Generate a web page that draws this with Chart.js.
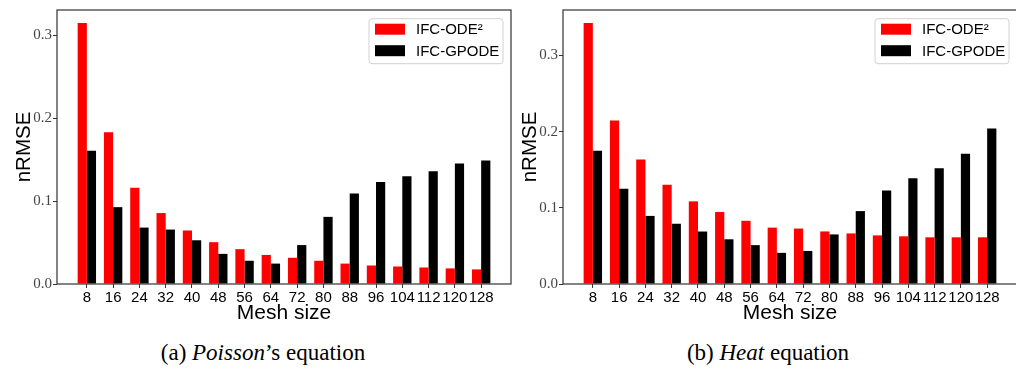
<!DOCTYPE html>
<html>
<head>
<meta charset="utf-8">
<script src="https://cdn.jsdelivr.net/npm/chart.js@4.4.1/dist/chart.umd.min.js"></script>
<style>
  html, body { margin: 0; padding: 0; background: #fff; width: 1016px; height: 373px; overflow: hidden; }
  .panel { position: absolute; top: 0; width: 514px; height: 330px; }
  .caption { position: absolute; top: 340px; font-family: "Liberation Serif", serif; font-size: 23px; color: #000; white-space: nowrap; transform: translateX(-50%); }
</style>
</head>
<body>
<div class="panel" style="left:0px"><canvas id="poissonChart"></canvas></div>
<div class="panel" style="left:506px"><canvas id="heatChart"></canvas></div>
<div class="caption" style="left:263px">(a) <i>Poisson</i>’s equation</div>
<div class="caption" style="left:768px">(b) <i>Heat</i> equation</div>
<script>
// 데이터
const meshSizes = [8, 16, 24, 32, 40, 48, 56, 64, 72, 80, 88, 96, 104, 112, 120, 128];
const seriesLabels = ['IFC-ODE²', 'IFC-GPODE'];
const poissonOde2  = [0.3145, 0.183, 0.116, 0.0855, 0.0645, 0.0504, 0.042, 0.035, 0.0316, 0.028, 0.0246, 0.0223, 0.0211, 0.0199, 0.0188, 0.0176];
const poissonGpode = [0.1605, 0.0926, 0.068, 0.0656, 0.0527, 0.0363, 0.028, 0.0246, 0.0469, 0.0809, 0.109, 0.123, 0.130, 0.136, 0.1453, 0.1488];
const heatOde2     = [0.3426, 0.2145, 0.1634, 0.1302, 0.1085, 0.0945, 0.083, 0.074, 0.0728, 0.069, 0.0664, 0.0638, 0.0626, 0.0613, 0.0613, 0.0613];
const heatGpode    = [0.1749, 0.1251, 0.0894, 0.0791, 0.0689, 0.0587, 0.051, 0.0409, 0.0434, 0.0651, 0.0957, 0.1226, 0.139, 0.152, 0.171, 0.2043];
const yTicks = [0, 0.1, 0.2, 0.3];

// 축 테두리 (matplotlib 스타일 4면)
const frame = {
  id: 'frame',
  afterDraw(chart) {
    const {ctx, chartArea: a} = chart;
    ctx.save();
    ctx.strokeStyle = '#333';
    ctx.lineWidth = 1.2;
    ctx.strokeRect(a.left, a.top, a.right - a.left, a.bottom - a.top);
    ctx.restore();
  }
};

// 차트 내부 범례
const insideLegend = {
  id: 'insideLegend',
  afterDraw(chart) {
    const {ctx, chartArea: a} = chart;
    const w = 134, h = 45;
    const x = a.right - 8 - w, y = a.top + 8.7;
    ctx.save();
    ctx.beginPath();
    ctx.roundRect(x, y, w, h, 3);
    ctx.fillStyle = 'rgba(255,255,255,0.8)';
    ctx.fill();
    ctx.strokeStyle = '#d0d0d0';
    ctx.lineWidth = 1;
    ctx.stroke();
    chart.data.datasets.forEach((ds, i) => {
      const rowY = y + 10.5 + i * 21.5;
      ctx.fillStyle = ds.backgroundColor;
      ctx.fillRect(x + 6, rowY - 5.5, 30, 11);
      ctx.fillStyle = '#000';
      ctx.font = '15px "Liberation Sans"';
      ctx.textBaseline = 'middle';
      ctx.fillText(ds.label, x + 47, rowY + 1);
    });
    ctx.restore();
  }
};

let _drawChart = function(id, ode, gpode) {
  const yMax = Math.max(...ode, ...gpode) * 1.05;
  return new Chart(document.getElementById(id), {
    type: 'bar',
    data: {
      datasets: [{
        label: seriesLabels[0],
        backgroundColor: '#ff0000',
        data: meshSizes.map((m, i) => ({x: m, y: ode[i]}))
      }, {
        label: seriesLabels[1],
        backgroundColor: '#000000',
        data: meshSizes.map((m, i) => ({x: m, y: gpode[i]}))
      }]
    },
    options: {
      responsive: true,
      maintainAspectRatio: false,
      animation: false,
      layout: { padding: { top: 3, right: 3, left: 0, bottom: 0 } },
      datasets: { bar: { categoryPercentage: 0.7, barPercentage: 1.0, borderWidth: 0 } },
      plugins: { legend: { display: false }, tooltip: { enabled: false } },
      scales: {
        x: {
          type: 'linear',
          min: -1.08,
          max: 137.08,
          offset: false,
          afterBuildTicks: s => { s.ticks = meshSizes.map(v => ({value: v})); },
          afterFit: s => { s.height = 46; },
          grid: { display: true, drawOnChartArea: false, drawTicks: true, tickLength: 4, tickColor: '#333', offset: false },
          border: { display: false },
          ticks: {
            autoSkip: false, maxRotation: 0, padding: 1, color: '#000',
            font: { family: '"Liberation Sans"', size: 15 },
            callback: v => String(v)
          },
          title: {
            display: true, text: 'Mesh size', color: '#000',
            font: { family: '"Liberation Sans"', size: 21 },
            padding: { top: 0, bottom: 4 }
          }
        },
        y: {
          min: 0,
          max: yMax,
          afterBuildTicks: s => { s.ticks = yTicks.map(v => ({value: v})); },
          afterFit: s => { s.width = 57; },
          grid: { display: true, drawOnChartArea: false, drawTicks: true, tickLength: 4, tickColor: '#333' },
          border: { display: false },
          ticks: {
            padding: 1, color: '#444',
            font: { family: '"Liberation Serif"', size: 15 },
            callback: v => v.toFixed(1)
          },
          title: {
            display: true, text: 'nRMSE', color: '#000',
            font: { family: '"Liberation Sans"', size: 20.5 },
            padding: { top: 12, bottom: 0 }
          }
        }
      }
    },
    plugins: [frame, insideLegend]
  });
};

_drawChart('poissonChart', poissonOde2, poissonGpode);
_drawChart('heatChart', heatOde2, heatGpode);
</script>
</body>
</html>
